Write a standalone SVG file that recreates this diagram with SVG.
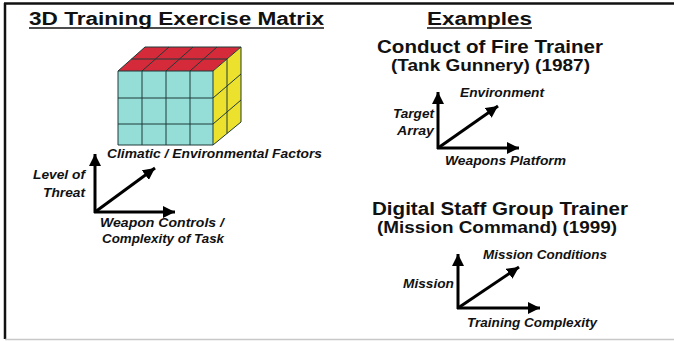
<svg xmlns="http://www.w3.org/2000/svg" width="674" height="341" viewBox="0 0 674 341">
  <style>
    .h { font-family: "Liberation Sans", Arial, sans-serif; font-weight: bold; fill: #111; }
    .ax { font-family: "Liberation Sans", Arial, sans-serif; font-weight: bold; font-style: italic; font-size: 13.5px; fill: #111; }
    .axis { stroke: #000; stroke-width: 3; fill: none; marker-end: url(#arrow); }
    .grid { stroke: #1f3a38; stroke-width: 1; fill: none; }
    .ul { stroke: #111; stroke-width: 1.6; }
  </style>
  <defs>
    <marker id="arrow" markerUnits="userSpaceOnUse" markerWidth="14" markerHeight="12" refX="12" refY="6" orient="auto">
      <path d="M0,0 L12,6 L0,12 Z" fill="#000"/>
    </marker>
  </defs>

  <rect x="0" y="0" width="674" height="341" fill="#fff"/>

  <!-- frame -->
  <g id="frame">
    <line x1="4" y1="3.5" x2="674" y2="3.5" stroke="#111" stroke-width="2.5"/>
    <line x1="5" y1="3" x2="5" y2="339" stroke="#111" stroke-width="2.5"/>
    <line x1="5" y1="339.5" x2="674" y2="339.5" stroke="#c8c8c8" stroke-width="1.5"/>
  </g>

  <!-- headings -->
  <g id="title-matrix">
    <text class="h" x="29" y="25" font-size="18" textLength="295" lengthAdjust="spacingAndGlyphs">3D Training Exercise Matrix</text>
    <line class="ul" x1="29" y1="28" x2="324" y2="28"/>
  </g>
  <g id="title-examples">
    <text class="h" x="427" y="25" font-size="18" textLength="105" lengthAdjust="spacingAndGlyphs">Examples</text>
    <line class="ul" x1="427" y1="28" x2="532" y2="28"/>
  </g>
  <g id="coft-title">
    <text class="h" x="377" y="53" font-size="18.5" textLength="226" lengthAdjust="spacingAndGlyphs">Conduct of Fire Trainer</text>
    <text class="h" x="391" y="71" font-size="16" textLength="199" lengthAdjust="spacingAndGlyphs">(Tank Gunnery) (1987)</text>
  </g>
  <g id="dsgt-title">
    <text class="h" x="372" y="215" font-size="18" textLength="256" lengthAdjust="spacingAndGlyphs">Digital Staff Group Trainer</text>
    <text class="h" x="377" y="232.5" font-size="16" textLength="240" lengthAdjust="spacingAndGlyphs">(Mission Command) (1999)</text>
  </g>

  <!-- 3D cube -->
  <g id="cube">
    <polygon points="118,71 145,47 241,47 213,71" fill="#d42a3a"/>
    <polygon points="213,71 241,47 241,122 213,145" fill="#ece22e"/>
    <rect x="118" y="71" width="95" height="74" fill="#95ded8"/>
    <!-- front face grid -->
    <path class="grid" d="M118,71 H213 V145 H118 Z M142,71 V145 M166,71 V145 M190,71 V145 M118,98 H213 M118,124 H213"/>
    <!-- top face grid -->
    <path class="grid" d="M118,71 L145,47 H241 L213,71 M142,71 L169,47 M166,71 L193,47 M190,71 L217,47 M131.5,59 H227"/>
    <!-- side face grid -->
    <path class="grid" d="M241,47 V122 L213,145 M227,59 V133.5 M213,98 L241,74 M213,124 L241,100"/>
  </g>

  <!-- axis connectors -->
  <g id="connectors">
    <line class="axis" x1="95" y1="213" x2="95" y2="154"/>
    <line class="axis" x1="94" y1="212" x2="175" y2="212"/>
    <line class="axis" x1="95" y1="212" x2="155" y2="168"/>

    <line class="axis" x1="438" y1="149" x2="438" y2="92"/>
    <line class="axis" x1="437" y1="148" x2="519" y2="148"/>
    <line class="axis" x1="438" y1="148" x2="498" y2="106"/>

    <line class="axis" x1="458" y1="309" x2="458" y2="254"/>
    <line class="axis" x1="457" y1="308" x2="540" y2="308"/>
    <line class="axis" x1="458" y1="308" x2="519" y2="267"/>
  </g>

  <!-- axis labels -->
  <g id="matrix-labels">
    <text class="ax" x="107" y="158" textLength="215" lengthAdjust="spacingAndGlyphs">Climatic / Environmental Factors</text>
    <text class="ax" x="33" y="179" textLength="52" lengthAdjust="spacingAndGlyphs">Level of</text>
    <text class="ax" x="43" y="197" textLength="42" lengthAdjust="spacingAndGlyphs">Threat</text>
    <text class="ax" x="100" y="227" textLength="124" lengthAdjust="spacingAndGlyphs">Weapon Controls /</text>
    <text class="ax" x="102" y="243" textLength="122" lengthAdjust="spacingAndGlyphs">Complexity of Task</text>
  </g>
  <g id="coft-labels">
    <text class="ax" x="460" y="97" textLength="84" lengthAdjust="spacingAndGlyphs">Environment</text>
    <text class="ax" x="393" y="118" textLength="41" lengthAdjust="spacingAndGlyphs">Target</text>
    <text class="ax" x="397" y="135" textLength="37" lengthAdjust="spacingAndGlyphs">Array</text>
    <text class="ax" x="445" y="165" textLength="121" lengthAdjust="spacingAndGlyphs">Weapons Platform</text>
  </g>
  <g id="dsgt-labels">
    <text class="ax" x="483" y="259" textLength="124" lengthAdjust="spacingAndGlyphs">Mission Conditions</text>
    <text class="ax" x="403" y="288" textLength="51" lengthAdjust="spacingAndGlyphs">Mission</text>
    <text class="ax" x="467" y="327" textLength="130" lengthAdjust="spacingAndGlyphs">Training Complexity</text>
  </g>
</svg>
